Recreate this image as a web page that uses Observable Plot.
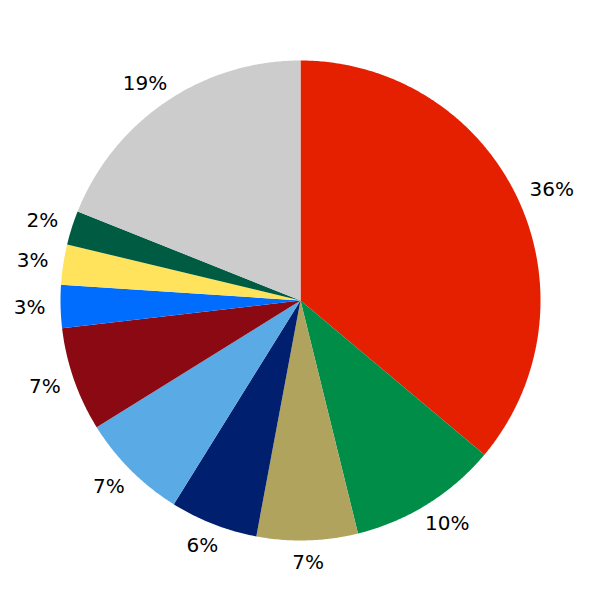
<!DOCTYPE html>
<html>
<head>
<meta charset="utf-8">
<script src="https://cdn.jsdelivr.net/npm/d3@7"></script>
<script src="https://cdn.jsdelivr.net/npm/@observablehq/plot@0.6"></script>
<style>
  html, body { margin: 0; padding: 0; background: #fff; }
</style>
</head>
<body>
<div id="chart"></div>
<script>
const categories = ["A", "B", "C", "D", "E", "F", "G", "H", "I", "J"];
const values = [36.1, 10.05, 6.8, 5.9, 7.3, 7.0, 2.9, 2.7, 2.3, 18.95];
const labels = ["36%", "10%", "7%", "6%", "7%", "7%", "3%", "3%", "2%", "19%"];
const colors = ["#e52000", "#008d48", "#b0a35e", "#001f6e", "#5aabe5", "#8a0913", "#006dff", "#ffe35c", "#005b43", "#cccccc"];

const fontSize = 20;
const pxPerUnit = 240;            // pie radius in pixels (x/y domain ±1.25 over 600px)
const labelInner = 1.0625;        // inner edge of label box, in pie radii
const stepsPerDegree = 2;

// approximate text extents for DejaVu Sans (em units)
function textHalfWidth(s) {
  let w = 0;
  for (const ch of s) w += ch === "%" ? 0.95 : 0.636;
  return w * fontSize / 2 / pxPerUnit;
}
const textHalfHeight = 0.375 * fontSize / pxPerUnit;

const total = d3.sum(values);
const slicePoints = [];
const labelData = [];
let start = 0;
values.forEach((v, i) => {
  const a0 = start / total * 2 * Math.PI;
  const a1 = (start + v) / total * 2 * Math.PI;
  const n = Math.max(2, Math.ceil((a1 - a0) * 180 / Math.PI * stepsPerDegree));
  slicePoints.push({key: categories[i], x: 0, y: 0});
  for (let k = 0; k <= n; k++) {
    const a = a0 + (a1 - a0) * k / n;
    slicePoints.push({key: categories[i], x: Math.sin(a), y: Math.cos(a)});
  }
  const am = (a0 + a1) / 2;
  const sx = Math.sin(am), cy = Math.cos(am);
  labelData.push({
    key: categories[i],
    text: labels[i],
    x: labelInner * sx + textHalfWidth(labels[i]) * sx,
    y: labelInner * cy + textHalfHeight * cy
  });
  start += v;
});

const chart = Plot.plot({
  width: 600,
  height: 600,
  margin: 0,
  x: {domain: [-1.25, 1.25], axis: null},
  y: {domain: [-1.25, 1.25], axis: null},
  color: {domain: categories, range: colors},
  style: {fontFamily: "DejaVu Sans", background: "white"},
  marks: [
    Plot.line(slicePoints, {x: "x", y: "y", z: "key", fill: "key", stroke: "none", curve: "linear-closed"}),
    Plot.text(labelData, {x: "x", y: "y", text: "text", fontSize: fontSize, fill: "black"})
  ]
});
document.getElementById("chart").appendChild(chart);
</script>
</body>
</html>
